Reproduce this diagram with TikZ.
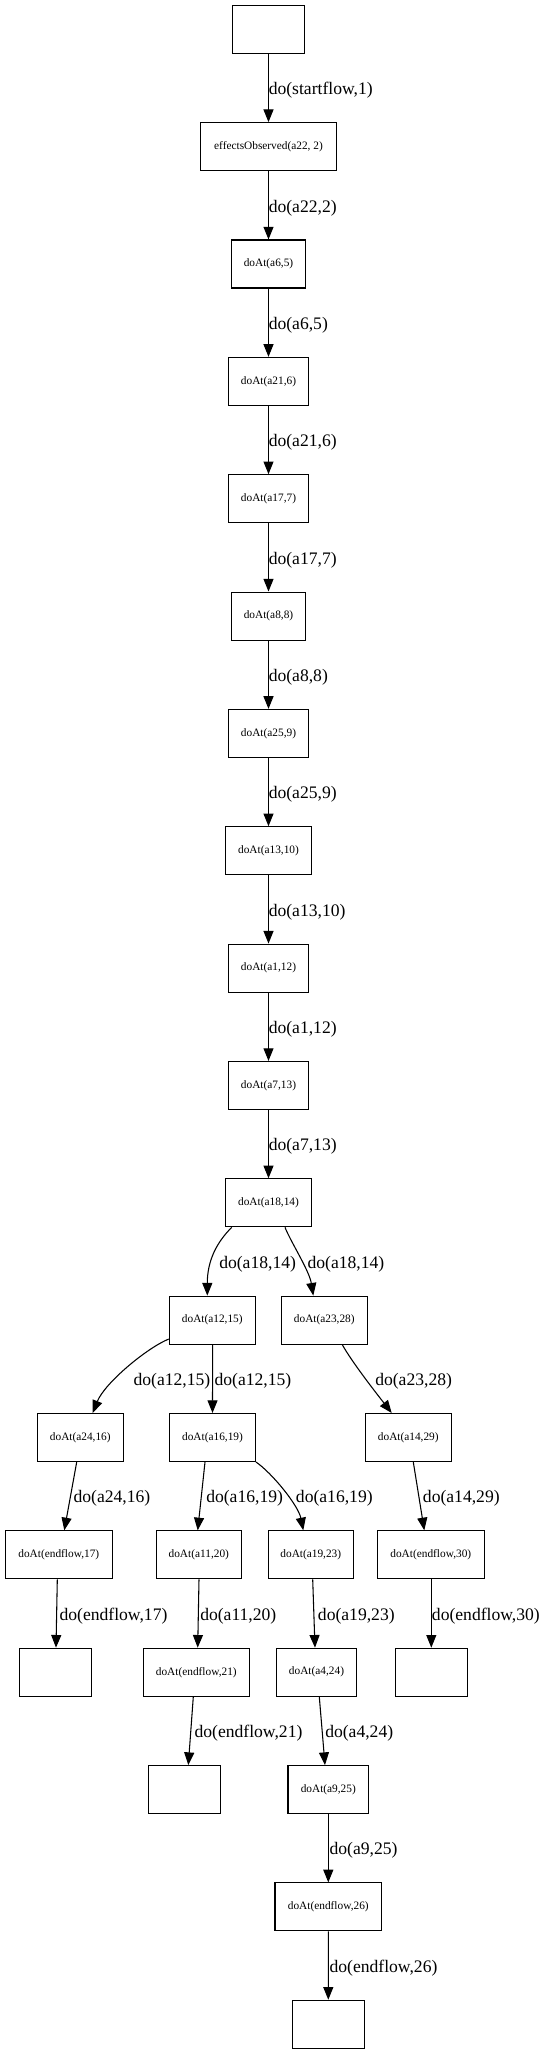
\documentclass[tikz,border=0pt]{standalone}
\usepackage{fontspec}
\setmainfont{Liberation Serif}
\usetikzlibrary{arrows.meta,calc}
\tikzset{
 box/.style={draw, line width=0.8pt, rectangle, minimum height=36pt, inner sep=0pt, font=\fontsize{8.5}{10}\selectfont},
 edge/.style={draw, line width=0.8pt, -{Triangle[length=9.5pt,width=7.5pt]}},
 lbl/.style={anchor=west, inner sep=0pt, font=\fontsize{13.2}{15}\selectfont},
}
\begin{document}
\begin{tikzpicture}[x=0.75pt,y=-0.75pt]
\fill[white] (0,0) rectangle (548,2053);
\useasboundingbox (0,0) rectangle (548,2053);
% nodes
\node[box, minimum width=54pt]   (start) at (268.5,29.3) {};
\node[box, minimum width=102pt]  (eff)   at (268.5,146.65) {effectsObserved(a22, 2)};
\node[box, minimum width=55.5pt] (a6)    at (268.5,264.0) {doAt(a6,5)};
\node[box, minimum width=60pt]   (a21)   at (268.5,381.35) {doAt(a21,6)};
\node[box, minimum width=60pt]   (a17)   at (268.5,498.7) {doAt(a17,7)};
\node[box, minimum width=55.5pt] (a8)    at (268.5,616.05) {doAt(a8,8)};
\node[box, minimum width=60pt]   (a25)   at (268.5,733.4) {doAt(a25,9)};
\node[box, minimum width=64.5pt] (a13)   at (268.5,850.75) {doAt(a13,10)};
\node[box, minimum width=60pt]   (a1)    at (268.5,968.1) {doAt(a1,12)};
\node[box, minimum width=60pt]   (a7)    at (268.5,1085.45) {doAt(a7,13)};
\node[box, minimum width=64.5pt] (a18)   at (268.5,1202.8) {doAt(a18,14)};
\node[box, minimum width=64.5pt] (a12)   at (212.3,1320.15) {doAt(a12,15)};
\node[box, minimum width=64.5pt] (a23)   at (324.3,1320.15) {doAt(a23,28)};
\node[box, minimum width=64.5pt] (a24)   at (80.3,1437.5) {doAt(a24,16)};
\node[box, minimum width=64.5pt] (a16)   at (212.5,1437.5) {doAt(a16,19)};
\node[box, minimum width=64.5pt] (a14)   at (408.3,1437.5) {doAt(a14,29)};
\node[box, minimum width=80.25pt] (ef17) at (58.8,1554.85) {doAt(endflow,17)};
\node[box, minimum width=63.75pt] (a11)  at (198.8,1554.85) {doAt(a11,20)};
\node[box, minimum width=63.75pt] (a19)  at (310.8,1554.85) {doAt(a19,23)};
\node[box, minimum width=80.25pt] (ef30) at (430.8,1554.85) {doAt(endflow,30)};
\node[box, minimum width=54pt]   (e17)   at (55.5,1672.2) {};
\node[box, minimum width=79.5pt] (ef21)  at (196.3,1672.2) {doAt(endflow,21)};
\node[box, minimum width=60pt]   (a4)    at (316.5,1672.2) {doAt(a4,24)};
\node[box, minimum width=54pt]   (e30)   at (431.3,1672.2) {};
\node[box, minimum width=54pt]   (e21)   at (184.3,1789.55) {};
\node[box, minimum width=60.5pt] (a9)    at (328.3,1789.55) {doAt(a9,25)};
\node[box, minimum width=80pt]   (ef26)  at (328.3,1906.9) {doAt(endflow,26)};
\node[box, minimum width=54pt]   (e26)   at (328.5,2024.25) {};
% main column edges
\draw[edge] (start) -- (eff);
\draw[edge] (eff) -- (a6);
\draw[edge] (a6) -- (a21);
\draw[edge] (a21) -- (a17);
\draw[edge] (a17) -- (a8);
\draw[edge] (a8) -- (a25);
\draw[edge] (a25) -- (a13);
\draw[edge] (a13) -- (a1);
\draw[edge] (a1) -- (a7);
\draw[edge] (a7) -- (a18);
% branching edges
\draw[edge] ($(a18.south)+(-36.8,0)$) .. controls +(-15,15) and +(0,-35) .. ($(a12.north)+(-5,0)$);
\draw[edge] ($(a18.south)+(16.5,0)$) .. controls +(6,15) and +(-4,-25) .. ($(a23.north)+(-11,0)$);
\draw[edge] ($(a12.west)+(0,18.85)$) .. controls +(-22,9) and +(12,-30) .. ($(a24.north)+(12.4,0)$);
\draw[edge] ($(a12.south)+(0.3,0)$) -- (a16.north);
\draw[edge] ($(a23.south)+(18,0)$) .. controls +(10,18) and +(-14,-18) .. ($(a14.north)+(-16.6,0)$);
\draw[edge] ($(a24.south)+(-3.6,0)$) -- ($(ef17.north)+(5.5,0)$);
\draw[edge] ($(a16.south)+(-7.5,0)$) -- ($(a11.north)+(-1.1,0)$);
\draw[edge] (a16.south east) .. controls +(16,11) and +(-5,-25) .. ($(a19.north)+(-7.5,0)$);
\draw[edge] ($(a14.south)+(5,0)$) -- ($(ef30.north)+(-6.5,0)$);
\draw[edge] ($(ef17.south)+(-1.5,0)$) -- ($(e17.north)+(0.5,0)$);
\draw[edge] ($(a11.south)+(0.2,0)$) -- ($(ef21.north)+(1.4,0)$);
\draw[edge] ($(a19.south)+(1.9,0)$) -- ($(a4.north)+(-1.5,0)$);
\draw[edge] ($(ef30.south)+(0.5,0)$) -- (e30.north);
\draw[edge] ($(ef21.south)+(-3,0)$) -- ($(e21.north)+(4,0)$);
\draw[edge] ($(a4.south)+(2.8,0)$) -- ($(a9.north)+(-3.3,0)$);
\draw[edge] (a9) -- (ef26);
\draw[edge] (ef26.south) -- ($(e26.north)+(-0.2,0)$);
% labels
\node[lbl] (l0) at (268.5,90.5) {do(startflow,1)};
\node[lbl] (l1) at (268.5,207.8) {do(a22,2)};
\node[lbl] (l2) at (268.5,325.2) {do(a6,5)};
\node[lbl] (l3) at (268.5,442.5) {do(a21,6)};
\node[lbl] (l4) at (268.5,559.9) {do(a17,7)};
\node[lbl] (l5) at (268.5,677.2) {do(a8,8)};
\node[lbl] (l6) at (268.5,794.6) {do(a25,9)};
\node[lbl] (l7) at (268.5,911.9) {do(a13,10)};
\node[lbl] (l8) at (268.5,1029.3) {do(a1,12)};
\node[lbl] (l9) at (268.5,1146.6) {do(a7,13)};
\node[lbl] (l10) at (219,1264) {do(a18,14)};
\node[lbl] (l11) at (307.3,1264) {do(a18,14)};
\node[lbl] (l12) at (133.3,1381.3) {do(a12,15)};
\node[lbl] (l13) at (214.3,1381.3) {do(a12,15)};
\node[lbl] (l14) at (375,1381.3) {do(a23,28)};
\node[lbl] (l15) at (73.3,1498.7) {do(a24,16)};
\node[lbl] (l16) at (206,1498.7) {do(a16,19)};
\node[lbl] (l17) at (295.7,1498.7) {do(a16,19)};
\node[lbl] (l18) at (422.7,1498.7) {do(a14,29)};
\node[lbl] (l19) at (59.3,1616) {do(endflow,17)};
\node[lbl] (l20) at (200,1616) {do(a11,20)};
\node[lbl] (l21) at (317.7,1616) {do(a19,23)};
\node[lbl] (l22) at (431.7,1616) {do(endflow,30)};
\node[lbl] (l23) at (194.3,1733.4) {do(endflow,21)};
\node[lbl] (l24) at (325,1733.4) {do(a4,24)};
\node[lbl] (l25) at (329.3,1850.7) {do(a9,25)};
\node[lbl] (l26) at (329.3,1968.1) {do(endflow,26)};
\end{tikzpicture}
\end{document}
